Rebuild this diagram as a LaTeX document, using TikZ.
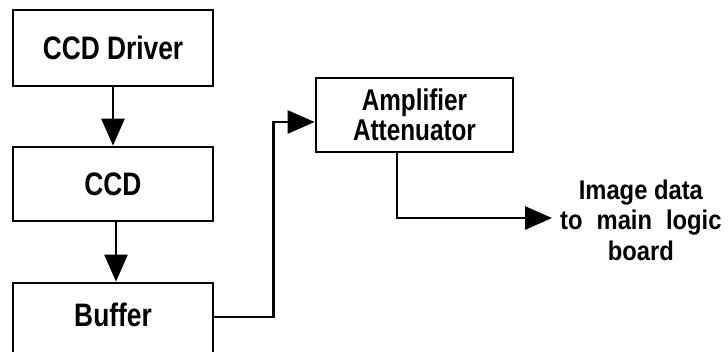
\documentclass[tikz,border=0pt]{standalone}
\usepackage{fontspec}
\usetikzlibrary{arrows.meta}
\newfontfamily\boxfont[FakeStretch=0.81]{Liberation Sans Bold}
\newfontfamily\lblfont[FakeStretch=0.88]{Liberation Sans Bold}
\begin{document}
\begin{tikzpicture}[x=1pt,y=-1pt,
  blk/.style={draw=black,line width=2.7pt,rectangle,minimum width=200pt,inner sep=0pt,
              font=\boxfont\fontsize{32.5}{33}\selectfont},
  amplbl/.style={font=\boxfont\fontsize{30}{30}\selectfont,align=center},
  outlbl/.style={font=\lblfont\fontsize{27}{30.5}\selectfont,align=center,inner ysep=0pt,inner xsep=8pt},
  arr/.style={line width=2.7pt,-{Triangle[length=27pt,width=23pt]}}
]
\useasboundingbox[fill=white] (0,0) rectangle (728,352);
\node[blk,minimum height=76pt] (drv) at (113,48) {CCD Driver};
\node[blk,minimum height=74pt] (ccd) at (113,184) {CCD};
\node[blk,text height=44pt,text depth=45pt] (buf) at (113,327.5) {Buffer};
\node[blk,amplbl,minimum width=197pt,minimum height=74pt] (amp) at (414.5,115) {Amplifier\\Attenuator};
\node[outlbl,anchor=west] (out) at (552,220) {Image data\\to\hspace{14pt}main\hspace{14pt}logic\\board};
\draw[arr] (drv.south) -- (ccd.north);
\draw[arr] ([xshift=3pt]ccd.south) -- ([xshift=3pt]buf.north);
\draw[arr] ([yshift=10.5pt]buf.east) -- ++(59,0) |- ([yshift=-7pt]amp.west);
\draw[arr] ([xshift=-17.5pt]amp.south) |- ([yshift=2pt]out.west);
\end{tikzpicture}
\end{document}
